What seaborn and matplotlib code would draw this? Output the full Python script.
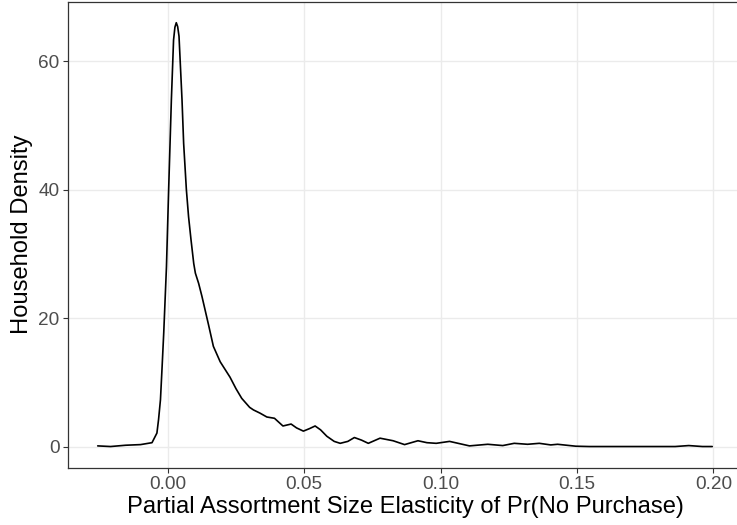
import matplotlib
matplotlib.use('Agg')
import matplotlib.pyplot as plt
import seaborn as sns
import pandas as pd

# Density curve
elasticity = [-0.0257, -0.0210, -0.0155, -0.0100, -0.0058, -0.0040, -0.0034, -0.0027,
              -0.0021, -0.0015, -0.0005, 0.0003, 0.0013, 0.0021, 0.0026, 0.0031, 0.0036,
              0.0041, 0.0052, 0.0058, 0.0068, 0.0076, 0.0085, 0.0095, 0.0101, 0.0113,
              0.0125, 0.0149, 0.0167, 0.0192, 0.0210, 0.0228,
              0.0250, 0.0271, 0.0300, 0.0314, 0.0338, 0.0363, 0.0391, 0.0422, 0.0452,
              0.0472, 0.0497, 0.0520, 0.0540, 0.0560, 0.0583, 0.0610, 0.0632, 0.0660,
              0.0684, 0.0710, 0.0735, 0.0778, 0.0826, 0.0868, 0.0917, 0.0950, 0.0984,
              0.1033, 0.1106, 0.1173, 0.1228, 0.1270, 0.1319, 0.1362, 0.1404, 0.1429,
              0.1496, 0.1545, 0.1700, 0.1860, 0.1910, 0.1960, 0.1996]
density = [0.1, 0.0, 0.2, 0.3, 0.6, 2.1, 4.2, 7.3,
           12.4, 17.7, 28.0, 40.0, 54.0, 63.3, 65.3, 66.0, 65.4,
           63.9, 54.0, 47.2, 40.0, 35.8, 32.2, 28.5, 27.0, 25.4,
           23.4, 19.0, 15.6, 13.2, 12.0, 10.8,
           9.0, 7.5, 6.1, 5.7, 5.2, 4.6, 4.4, 3.2, 3.5,
           2.9, 2.4, 2.8, 3.2, 2.6, 1.6, 0.8, 0.5, 0.8,
           1.4, 1.0, 0.5, 1.3, 0.9, 0.3, 0.9, 0.6, 0.5,
           0.8, 0.1, 0.35, 0.15, 0.5, 0.35, 0.5, 0.25, 0.35,
           0.05, 0.0, 0.0, 0.0, 0.15, 0.0, 0.0]

x_ticks = [0.00, 0.05, 0.10, 0.15, 0.20]
x_labels = ['0.00', '0.05', '0.10', '0.15', '0.20']
y_ticks = [0, 20, 40, 60]
y_labels = ['0', '20', '40', '60']

df = pd.DataFrame({'elasticity': elasticity, 'density': density})

sns.set_style('white')
plt.rcParams['font.family'] = ['Liberation Sans', 'DejaVu Sans']

fig = plt.figure(figsize=(7.37, 5.25), dpi=100)
# panel runs past the right edge, as in the reference
ax = fig.add_axes([0.0919, 0.1091, 0.9163, 0.888])

sns.lineplot(x='elasticity', y='density', data=df, color='black', linewidth=1.2, ax=ax)

ax.set_xlim(-0.0367, 0.2109)
ax.set_ylim(-3.3, 69.3)
ax.set_xticks(x_ticks)
ax.set_xticklabels(x_labels)
ax.set_yticks(y_ticks)
ax.set_yticklabels(y_labels)

ax.grid(True, color='#EBEBEB', linewidth=1.0)
ax.set_axisbelow(True)
for s in ax.spines.values():
    s.set_color('#333333')
    s.set_linewidth(0.9)
ax.spines['right'].set_visible(False)

ax.tick_params(axis='both', which='major', direction='out', length=3.6, width=0.8,
               color='#333333', labelcolor='#4D4D4D', labelsize=13.7, pad=2.2,
               bottom=True, left=True)

ax.set_xlabel('Partial Assortment Size Elasticity of Pr(No Purchase)', fontsize=17.1,
              color='black', labelpad=2)
ax.set_ylabel('Household Density', fontsize=17.1, color='black', labelpad=4)

fig.savefig('out.png', dpi=100)
